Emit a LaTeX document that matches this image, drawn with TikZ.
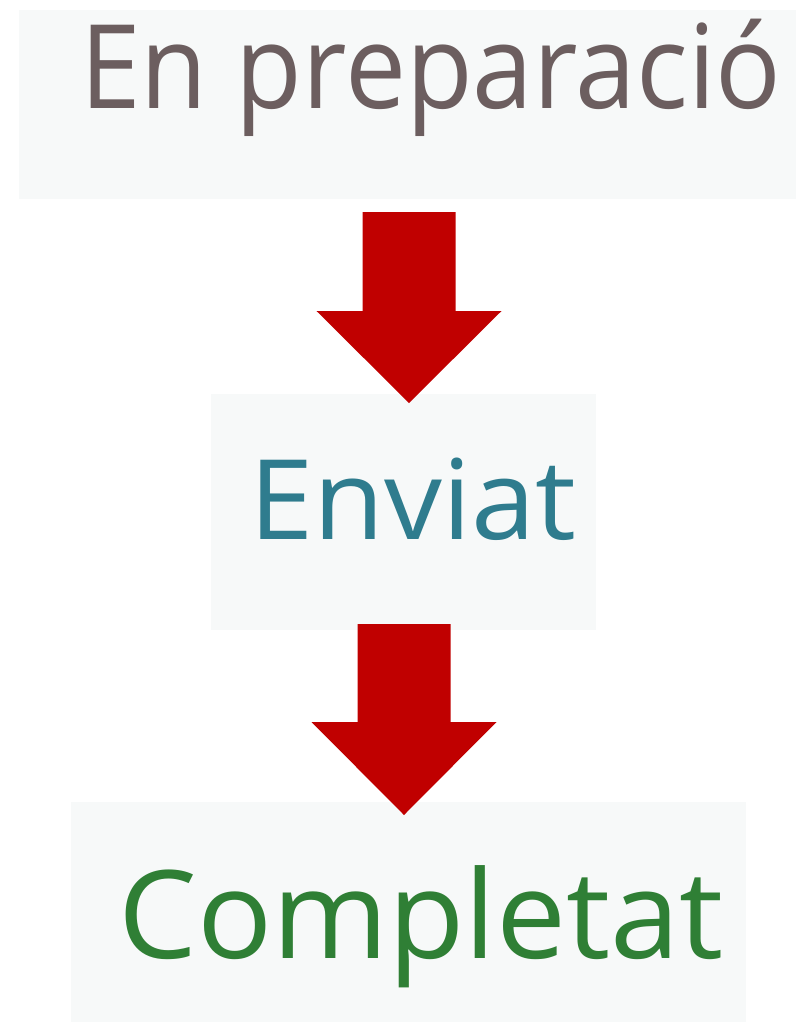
\documentclass[tikz,border=0pt]{standalone}
\usepackage{graphicx}
\usepackage{fontspec}
\setmainfont{Open Sans}
\usetikzlibrary{fit}
\definecolor{boxgray}{HTML}{F7F9F9}
\definecolor{arrowred}{HTML}{C00000}
\definecolor{prepcolor}{HTML}{6C5E5F}
\definecolor{sentcolor}{HTML}{2F7C8E}
\definecolor{donecolor}{HTML}{2F7F35}
\tikzset{
	statebox/.style = {fill = boxgray, draw = none, inner sep = 0pt},
	statetext/.style = {anchor = base west, inner sep = 0pt},
	blockarrow/.style = {fill = arrowred, draw = none}
}
\begin{document}
\begin{tikzpicture}[x = 0.025cm, y = -0.025cm]
	%Canvas
	\useasboundingbox (0, 0) rectangle (796, 1022);
	%Boxes
	\node[statebox, fit = {(19, 10) (796, 199)}] (prepbox) {};
	\node[statebox, fit = {(211, 394) (596, 630)}] (sentbox) {};
	\node[statebox, fit = {(71, 802) (746, 1022)}] (donebox) {};
	%Texts
	\node[statetext, text = prepcolor, font = \fontsize{83}{90}\selectfont] (preptext) at (80, 108) {\scalebox{0.933}[1]{En preparació}};
	\node[statetext, text = sentcolor, font = \fontsize{79}{86}\selectfont] (senttext) at (249, 539) {\scalebox{1.04}[1]{Enviat}};
	\node[statetext, text = donecolor, font = \fontsize{87}{94}\selectfont] (donetext) at (118, 958) {\scalebox{1.02}[1]{Completat}};
	%Arrows
	\coordinate (arrowone) at (409, 212);
	\coordinate (arrowtwo) at (404, 624);
	\fill[blockarrow] (arrowone) ++(-46.5, 0) -- ++(93, 0) -- ++(0, 99) -- ++(46, 0) -- ++(-92.5, 92) -- ++(-92.5, -92) -- ++(46, 0) -- cycle;
	\fill[blockarrow] (arrowtwo) ++(-46.5, 0) -- ++(93, 0) -- ++(0, 98) -- ++(46, 0) -- ++(-92.5, 93) -- ++(-92.5, -93) -- ++(46, 0) -- cycle;
\end{tikzpicture}
\end{document}
